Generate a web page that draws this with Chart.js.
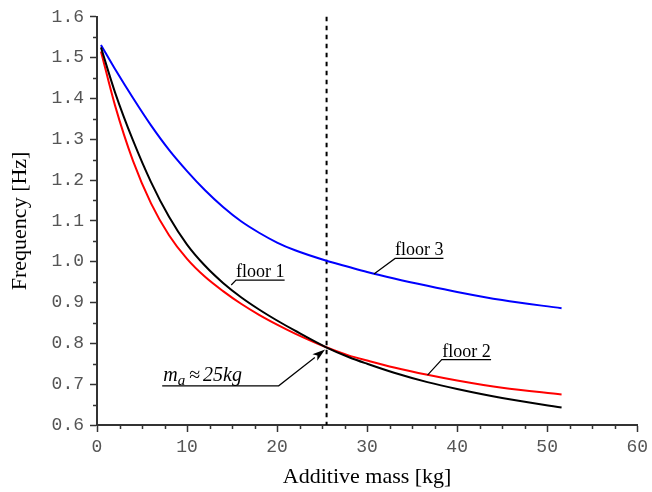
<!DOCTYPE html>
<html>
<head>
<meta charset="utf-8">
<script src="https://cdn.jsdelivr.net/npm/chart.js@4.4.0/dist/chart.umd.min.js"></script>
<style>
  html, body { margin: 0; padding: 0; background: #fff; }
  #wrap { width: 652px; height: 492px; }
</style>
</head>
<body>
<div id="wrap"><canvas id="chart" width="652" height="492"></canvas></div>
<script>
// values
const mass   = [0.44, 2, 4, 6, 8, 10, 12, 14, 16, 18, 20, 22, 25.4, 28, 30, 33, 36.7, 40, 45, 51.6];
const floor1 = [1.525, 1.415, 1.297, 1.195, 1.110, 1.042, 0.990, 0.948, 0.913, 0.883, 0.856, 0.831, 0.791, 0.766, 0.750, 0.728, 0.705, 0.688, 0.666, 0.643];
const floor2 = [1.515, 1.383, 1.247, 1.143, 1.065, 1.007, 0.963, 0.928, 0.897, 0.870, 0.846, 0.824, 0.791, 0.770, 0.758, 0.741, 0.723, 0.709, 0.691, 0.675];
const floor3 = [1.531, 1.472, 1.401, 1.334, 1.274, 1.222, 1.175, 1.134, 1.099, 1.071, 1.047, 1.028, 1.003, 0.987, 0.975, 0.959, 0.941, 0.926, 0.906, 0.886];
const xTicks = [0, 10, 20, 30, 40, 50, 60];
const yTicks = [0.6, 0.7, 0.8, 0.9, 1.0, 1.1, 1.2, 1.3, 1.4, 1.5, 1.6];
const markerMass = 25.5;

// labels: leader start on curve, elbow, underline end (data units)
const notes = [
  { text: "floor 1", from: [14.91, 0.943], elbow: [15.44, 0.955], end: [20.84, 0.955] },
  { text: "floor 3", from: [30.76, 0.970], elbow: [33.11, 1.008], end: [38.48, 1.008] },
  { text: "floor 2", from: [36.71, 0.722], elbow: [38.29, 0.760], end: [43.77, 0.760] },
];
const maNote = { start: [7.24, 0.696], elbow: [20.18, 0.696], tip: [25.33, 0.785] };

function pts(ys) { return mass.map((m, i) => ({ x: m, y: ys[i] })); }

const serif = "'Liberation Serif', 'Times New Roman', serif";
const mono = "'Liberation Mono', 'Courier New', monospace";

// minor ticks, dashed marker and text labels
const extras = {
  id: 'extras',
  beforeDatasetsDraw(chart) {
    const { ctx, scales: { x, y } } = chart;
    ctx.save();
    ctx.strokeStyle = '#000';
    ctx.lineWidth = 2;
    ctx.setLineDash([4.5, 4.5]);
    ctx.beginPath();
    ctx.moveTo(x.getPixelForValue(markerMass), y.getPixelForValue(1.6));
    ctx.lineTo(x.getPixelForValue(markerMass), y.getPixelForValue(0.6));
    ctx.stroke();
    ctx.restore();
  },
  afterDraw(chart) {
    const { ctx, scales: { x, y } } = chart;
    ctx.save();
    ctx.strokeStyle = '#333';
    ctx.lineWidth = 1.5;
    ctx.beginPath();
    for (let v = 2.5; v < 60; v += 2.5) {
      if (v % 10 === 0) continue;
      const px = Math.round(x.getPixelForValue(v)) + 0.5;
      ctx.moveTo(px, y.bottom);
      ctx.lineTo(px, y.bottom + 4);
    }
    for (let i = 0; i < yTicks.length - 1; i++) {
      const py = Math.round(y.getPixelForValue(yTicks[i] + 0.05)) + 0.5;
      ctx.moveTo(x.left, py);
      ctx.lineTo(x.left - 4, py);
    }
    ctx.stroke();

    // labels with leaders
    ctx.strokeStyle = '#000';
    ctx.lineWidth = 1.2;
    ctx.fillStyle = '#000';
    ctx.font = "18px " + serif;
    ctx.textAlign = 'center';
    ctx.textBaseline = 'alphabetic';
    notes.forEach(n => {
      const fx = x.getPixelForValue(n.from[0]), fy = y.getPixelForValue(n.from[1]);
      const ex = x.getPixelForValue(n.elbow[0]), ey = y.getPixelForValue(n.elbow[1]);
      const ux = x.getPixelForValue(n.end[0]);
      ctx.beginPath();
      ctx.moveTo(fx, fy);
      ctx.lineTo(ex, ey);
      ctx.lineTo(ux, ey);
      ctx.stroke();
      ctx.fillText(n.text, (ex + ux) / 2, ey - 3);
    });

    // m_a annotation with arrow
    const sx = x.getPixelForValue(maNote.start[0]), sy = y.getPixelForValue(maNote.start[1]);
    const bx = x.getPixelForValue(maNote.elbow[0]);
    const tx = x.getPixelForValue(maNote.tip[0]), ty = y.getPixelForValue(maNote.tip[1]);
    const ang = Math.atan2(ty - sy, tx - bx);
    const headLen = 13, headW = 4;
    const c = Math.cos(ang), s = Math.sin(ang);
    ctx.beginPath();
    ctx.moveTo(sx, sy);
    ctx.lineTo(bx, sy);
    ctx.lineTo(tx - headLen * c, ty - headLen * s);
    ctx.stroke();
    ctx.beginPath();
    ctx.moveTo(tx, ty);
    ctx.lineTo(tx - headLen * c + headW * s, ty - headLen * s - headW * c);
    ctx.lineTo(tx - headLen * c * 0.75, ty - headLen * s * 0.75);
    ctx.lineTo(tx - headLen * c - headW * s, ty - headLen * s + headW * c);
    ctx.closePath();
    ctx.fill();

    ctx.textAlign = 'left';
    let cx = sx + 1;
    const base = sy - 5;
    ctx.font = "italic 20px " + serif;
    ctx.fillText("m", cx, base);
    cx += ctx.measureText("m").width;
    ctx.font = "italic 15px " + serif;
    ctx.fillText("a", cx, base + 4);
    cx += ctx.measureText("a").width + 4;
    ctx.font = "20px " + serif;
    ctx.fillText("\u2248", cx, base);
    cx += ctx.measureText("\u2248").width + 3;
    ctx.font = "italic 20px " + serif;
    ctx.fillText("25kg", cx, base);
    ctx.restore();
  }
};

new Chart(document.getElementById('chart'), {
  type: 'scatter',
  data: {
    datasets: [
      { label: 'floor 1', data: pts(floor1), borderColor: '#000000' },
      { label: 'floor 2', data: pts(floor2), borderColor: '#ff0000' },
      { label: 'floor 3', data: pts(floor3), borderColor: '#0000ff' },
    ].map(d => Object.assign(d, {
      showLine: true, pointRadius: 0, borderWidth: 2,
      cubicInterpolationMode: 'monotone', fill: false
    }))
  },
  options: {
    responsive: false,
    animation: false,
    layout: { padding: { left: 0, right: 11, top: 15, bottom: 0 } },
    plugins: { legend: { display: false }, tooltip: { enabled: false } },
    scales: {
      x: {
        type: 'linear', min: 0, max: 60,
        afterBuildTicks: s => { s.ticks = xTicks.map(v => ({ value: v })); },
        afterFit: s => { s.height = 67; },
        grid: { drawOnChartArea: false, tickLength: 7, tickWidth: 1.5, tickColor: '#333' },
        border: { display: true, color: '#333', width: 2 },
        ticks: { font: { family: mono, size: 18 }, color: '#555', padding: 4, maxRotation: 0,
                 callback: v => String(v) },
        title: { display: true, text: 'Additive mass [kg]', font: { family: serif, size: 22 },
                 color: '#000', padding: { top: 0, bottom: 2 } }
      },
      y: {
        type: 'linear', min: 0.6, max: 1.6,
        afterBuildTicks: s => { s.ticks = yTicks.map(v => ({ value: v })); },
        afterFit: s => { s.width = 97; },
        grid: { drawOnChartArea: false, tickLength: 7, tickWidth: 1.5, tickColor: '#333' },
        border: { display: true, color: '#333', width: 2 },
        ticks: { font: { family: mono, size: 18 }, color: '#555', padding: 6,
                 callback: v => Number(v).toFixed(1) },
        title: { display: true, text: 'Frequency [Hz]', font: { family: serif, size: 22 },
                 color: '#000', padding: { top: 7, bottom: 0 } }
      }
    }
  },
  plugins: [extras]
});
</script>
</body>
</html>
